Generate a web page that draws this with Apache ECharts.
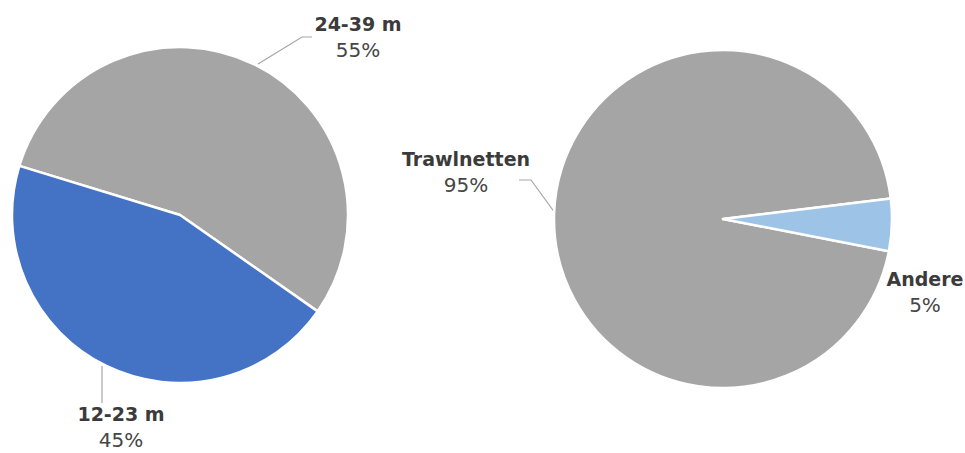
<!DOCTYPE html>
<html><head><meta charset="utf-8">
<script src="https://cdn.jsdelivr.net/npm/echarts@6/dist/echarts.min.js"></script>
<style>html,body{margin:0;padding:0;background:#fff}#c{width:965px;height:453px}</style>
</head><body><div id="c"></div>
<script>
const lengthNames = ['24-39 m', '12-23 m'];
const lengthValues = [55, 45];
const gearNames = ['Trawlnetten', 'Andere'];
const gearValues = [95, 5];

const textColor = '#3b3b3b';
const rich = {
  n: {fontFamily: 'DejaVu Sans', fontWeight: 'bold', fontSize: 19, color: textColor, lineHeight: 26},
  v: {fontFamily: 'DejaVu Sans', fontSize: 20, color: '#454545', lineHeight: 26}
};
const leftLabels = [
  {x: 358, y: 37, line: [[258, 64], [302, 37], [312, 37]]},
  {x: 121, y: 427, line: [[102, 366], [102, 385], [102, 403]]}
];
const rightLabels = [
  {x: 466, y: 172, line: [[555, 213], [531, 180], [519, 180]]},
  {x: 925, y: 292, line: null}
];
function mk(names, values, colors) {
  return names.map((n, i) => ({name: n, value: values[i], itemStyle: {color: colors[i]}}));
}
function layoutFn(defs) {
  return function (p) {
    const d = defs[p.dataIndex];
    const r = {x: d.x, y: d.y, align: 'center', verticalAlign: 'middle'};
    if (d.line) r.labelLinePoints = d.line;
    return r;
  };
}
const labelCfg = {formatter: '{n|{b}}\n{v|{d}%}', rich: rich, overflow: 'none', align: 'center', edgeDistance: 0, bleedMargin: 0};
const chart = echarts.init(document.getElementById('c'), null, {renderer: 'svg'});
chart.setOption({
  animation: false,
  series: [
    {
      type: 'pie', center: [180, 215], radius: [0, 168], startAngle: 163, clockwise: true,
      data: mk(lengthNames, lengthValues, ['#A5A5A5', '#4472C4']),
      itemStyle: {borderColor: '#fff', borderWidth: 2.5},
      label: labelCfg,
      labelLine: {show: true, lineStyle: {color: '#A5A5A5', width: 1.2}},
      labelLayout: layoutFn(leftLabels),
      emphasis: {disabled: true}
    },
    {
      type: 'pie', center: [723, 219], radius: [0, 169], startAngle: -11, clockwise: true,
      data: mk(gearNames, gearValues, ['#A5A5A5', '#9DC3E6']).map((d, i) => i === 1 ? Object.assign(d, {labelLine: {show: false}}) : d),
      itemStyle: {borderColor: '#fff', borderWidth: 2.5},
      label: labelCfg,
      labelLine: {show: true, lineStyle: {color: '#A5A5A5', width: 1.2}},
      labelLayout: layoutFn(rightLabels),
      emphasis: {disabled: true}
    }
  ]
});
</script></body></html>
